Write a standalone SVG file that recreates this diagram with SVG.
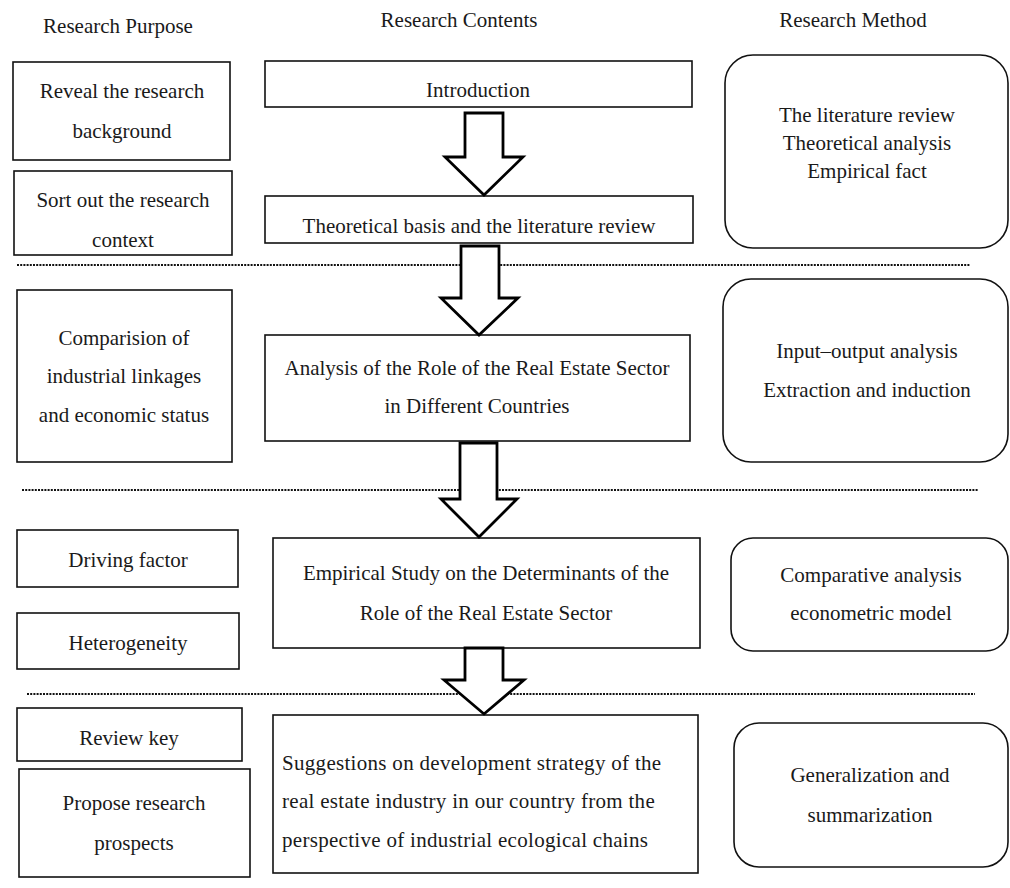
<svg xmlns="http://www.w3.org/2000/svg" width="1010" height="888" viewBox="0 0 1010 888">
<style>
text{font-family:"Liberation Serif","Times New Roman",serif;font-size:21px;fill:#1a1a1a;text-anchor:middle}
.box{fill:#fff;stroke:#111;stroke-width:1.6}
.dot{stroke:#111;stroke-width:2;stroke-dasharray:2 1.2;fill:none}
.arr{fill:#fff;stroke:#000;stroke-width:2.8;stroke-linejoin:miter}
.l{text-anchor:start;letter-spacing:0.3px}
</style>
<rect width="1010" height="888" fill="#fff"/>
<g id="headers">
<text x="118" y="33">Research Purpose</text>
<text x="459" y="27">Research Contents</text>
<text x="853" y="27">Research Method</text>
</g>
<g id="separators">
<line class="dot" x1="17" y1="265" x2="970" y2="265"/>
<line class="dot" x1="22" y1="490" x2="978" y2="490"/>
<line class="dot" x1="27" y1="694" x2="975" y2="694"/>
</g>
<g id="p1"><rect class="box" x="13" y="62" width="217" height="98"/><text x="122" y="98">Reveal the research</text><text x="122" y="138">background</text></g>
<g id="p2"><rect class="box" x="14" y="171" width="218" height="84"/><text x="123" y="207">Sort out the research</text><text x="123" y="247">context</text></g>
<g id="p3"><rect class="box" x="17" y="290" width="215" height="172"/><text x="124" y="345">Comparision of</text><text x="124" y="383">industrial linkages</text><text x="124" y="422">and economic status</text></g>
<g id="p4"><rect class="box" x="17" y="530" width="221" height="57"/><text x="128" y="567">Driving factor</text></g>
<g id="p5"><rect class="box" x="17" y="613" width="222" height="56"/><text x="128" y="650">Heterogeneity</text></g>
<g id="p6"><rect class="box" x="17" y="708" width="225" height="53"/><text x="129" y="745">Review key</text></g>
<g id="p7"><rect class="box" x="19" y="769" width="231" height="108"/><text x="134" y="810">Propose research</text><text x="134" y="850">prospects</text></g>
<g id="c1"><rect class="box" x="265" y="61" width="427" height="46"/><text x="478" y="97">Introduction</text></g>
<g id="c2"><rect class="box" x="265" y="196" width="428" height="47"/><text x="479" y="233">Theoretical basis and the literature review</text></g>
<g id="c3"><rect class="box" x="265" y="335" width="425" height="106"/><text x="477" y="375">Analysis of the Role of the Real Estate Sector</text><text x="477" y="413">in Different Countries</text></g>
<g id="c4"><rect class="box" x="273" y="538" width="427" height="110"/><text x="486" y="580">Empirical Study on the Determinants of the</text><text x="486" y="620">Role of the Real Estate Sector</text></g>
<g id="c5"><rect class="box" x="273" y="715" width="425" height="158"/><text class="l" x="282" y="770">Suggestions on development strategy of the</text><text class="l" x="282" y="808">real estate industry in our country from the</text><text class="l" x="282" y="847">perspective of industrial ecological chains</text></g>
<g id="m1"><rect class="box" x="725" y="55" width="283" height="193" rx="28"/><text x="867" y="122">The literature review</text><text x="867" y="150">Theoretical analysis</text><text x="867" y="178">Empirical fact</text></g>
<g id="m2"><rect class="box" x="723" y="279" width="285" height="183" rx="28"/><text x="867" y="358">Input–output analysis</text><text x="867" y="397">Extraction and induction</text></g>
<g id="m3"><rect class="box" x="731" y="538" width="277" height="113" rx="22"/><text x="871" y="582">Comparative analysis</text><text x="871" y="620">econometric model</text></g>
<g id="m4"><rect class="box" x="734" y="723" width="274" height="144" rx="25"/><text x="870" y="782">Generalization and</text><text x="870" y="822">summarization</text></g>
<g id="connectors">
<path class="arr" d="M465,113 L503,113 L503,157 L523,157 L484,195 L445,157 L465,157 Z"/>
<path class="arr" d="M461,246 L499,246 L499,298 L518,298 L479,335 L441,298 L461,298 Z"/>
<path class="arr" d="M460,443 L497,443 L497,499 L517,499 L479,537 L441,499 L460,499 Z"/>
<path class="arr" d="M465,648 L503,648 L503,680 L524,680 L484,714 L444,680 L465,680 Z"/>
</g>
</svg>
